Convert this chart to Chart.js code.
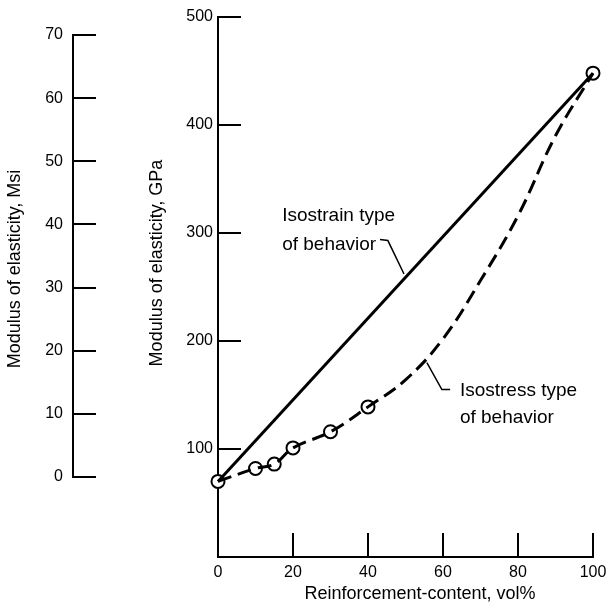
<!DOCTYPE html>
<html>
<head>
<meta charset="utf-8">
<script src="https://cdn.jsdelivr.net/npm/chart.js@4/dist/chart.umd.min.js"></script>
<style>
  html, body { margin: 0; padding: 0; background: #fff; }
  #wrap { position: relative; width: 612px; height: 610px; }
  #wrap canvas { position: absolute; left: 0; top: 0; }
</style>
</head>
<body>
<div id="wrap">
  <canvas id="msi" width="612" height="610"></canvas>
  <canvas id="main" width="612" height="610"></canvas>
</div>
<script>
// values
const measuredPct = [0, 10, 15, 20, 30, 40, 100]
const measuredGpa = [70, 82, 86, 101, 116, 139, 448]

const isostrainPct = [0, 100]
const isostrainGpa = [70, 448]

const isostressPct = [0, 10, 15, 20, 30, 40, 50, 60, 70, 80, 90, 100]
const isostressGpa = [70, 82, 86, 101, 116, 139, 164, 202, 256, 316, 390, 448]

const xTicks = [0, 20, 40, 60, 80, 100]
const gpaTicks = [100, 200, 300, 400, 500]
const msiTicks = [0, 10, 20, 30, 40, 50, 60, 70]

const FONT = "'Liberation Sans', Arial, sans-serif"
const INK = '#000'

const pts = (xs, ys) => xs.map((x, i) => ({ x, y: ys[i] }))

// fixed box sizes so the plot sits where the original does
const fixBox = (w, h) => s => {
  if (w != null) s.width = w
  if (h != null) s.height = h
  s.paddingLeft = s.paddingRight = s.paddingTop = s.paddingBottom = 0
}

// free text + leader lines; labels/leaders in data units, titles in pixels
const notesPlugin = {
  id: 'notes',
  afterDraw(chart, args, opts) {
    const ctx = chart.ctx
    const sx = chart.scales.x
    const sy = chart.scales.y
    const px = v => sx.getPixelForValue(v)
    const py = v => sy.getPixelForValue(v)
    ctx.save()
    ctx.fillStyle = INK
    ctx.strokeStyle = INK
    ;(opts.titles || []).forEach(t => {
      ctx.save()
      ctx.translate(t.x, t.y)
      ctx.rotate(t.rot || 0)
      ctx.font = t.font
      ctx.textAlign = 'center'
      ctx.textBaseline = 'middle'
      ctx.fillText(t.text, 0, 0)
      ctx.restore()
    })
    ;(opts.labels || []).forEach(t => {
      ctx.font = t.font
      ctx.textAlign = 'left'
      ctx.textBaseline = 'alphabetic'
      ctx.fillText(t.text, px(t.x), py(t.y))
    })
    ;(opts.leaders || []).forEach(l => {
      ctx.lineWidth = 1.5
      ctx.beginPath()
      l.forEach((p, i) => (i ? ctx.lineTo(px(p[0]), py(p[1])) : ctx.moveTo(px(p[0]), py(p[1]))))
      ctx.stroke()
    })
    ctx.restore()
  }
}

// separate Msi scale on the left
new Chart(document.getElementById('msi'), {
  type: 'scatter',
  data: { datasets: [] },
  options: {
    responsive: false,
    animation: false,
    layout: { padding: { left: 0, right: 516, top: 35, bottom: 133 } },
    plugins: {
      legend: { display: false },
      tooltip: { enabled: false },
      notes: {
        titles: [
          { text: 'Modulus of elasticity, Msi', x: 15, y: 269, rot: -Math.PI / 2, font: `18px ${FONT}` }
        ]
      }
    },
    scales: {
      x: { display: false, min: 0, max: 1 },
      y: {
        min: 0,
        max: 70,
        afterBuildTicks: s => { s.ticks = msiTicks.map(value => ({ value })) },
        afterFit: fixBox(73, null),
        border: { display: true, color: INK, width: 2 },
        grid: { drawOnChartArea: true, drawTicks: false, color: INK, lineWidth: 2 },
        ticks: { color: INK, padding: 10, font: { family: FONT, size: 16 } }
      }
    }
  },
  plugins: [notesPlugin]
})

new Chart(document.getElementById('main'), {
  type: 'scatter',
  data: {
    datasets: [
      {
        label: 'Isostrain type of behavior',
        data: pts(isostrainPct, isostrainGpa),
        showLine: true,
        borderColor: INK,
        borderWidth: 3,
        pointRadius: 0,
        clip: false
      },
      {
        label: 'Isostress type of behavior',
        data: pts(isostressPct, isostressGpa),
        showLine: true,
        borderColor: INK,
        borderWidth: 3,
        borderDash: [14, 7],
        tension: 0.4,
        pointRadius: 0,
        clip: false
      },
      {
        label: 'Measured',
        data: pts(measuredPct, measuredGpa),
        showLine: false,
        pointRadius: 6.5,
        pointBorderWidth: 2,
        pointBackgroundColor: '#fff',
        pointBorderColor: INK,
        clip: false
      }
    ]
  },
  options: {
    responsive: false,
    animation: false,
    layout: { padding: { left: 143, right: 19, top: 17, bottom: 0 } },
    plugins: {
      legend: { display: false },
      tooltip: { enabled: false },
      notes: {
        titles: [
          { text: 'Modulus of elasticity, GPa', x: 157, y: 263, rot: -Math.PI / 2, font: `18px ${FONT}` },
          { text: 'Reinforcement-content, vol%', x: 420, y: 594, font: `18px ${FONT}` }
        ],
        labels: [
          { text: 'Isostrain type', x: 17.1, y: 311, font: `19px ${FONT}` },
          { text: 'of behavior', x: 17.1, y: 284, font: `19px ${FONT}` },
          { text: 'Isostress type', x: 64.5, y: 149, font: `19px ${FONT}` },
          { text: 'of behavior', x: 64.5, y: 124, font: `19px ${FONT}` }
        ],
        leaders: [
          [[43.2, 294], [45.3, 293], [49.6, 262]],
          [[55.7, 180], [59.7, 155], [61.9, 155]]
        ]
      }
    },
    scales: {
      x: {
        type: 'linear',
        min: 0,
        max: 100,
        afterBuildTicks: s => { s.ticks = xTicks.map(value => ({ value })) },
        afterFit: fixBox(null, 53),
        border: { display: true, color: INK, width: 2 },
        grid: { drawOnChartArea: false, drawTicks: true, tickLength: -24, color: INK, lineWidth: 2 },
        ticks: { color: INK, padding: 30, font: { family: FONT, size: 16 } }
      },
      y: {
        min: 0,
        max: 500,
        afterBuildTicks: s => { s.ticks = gpaTicks.map(value => ({ value })) },
        afterFit: fixBox(75, null),
        border: { display: true, color: INK, width: 2 },
        grid: { drawOnChartArea: false, drawTicks: true, tickLength: -23, color: INK, lineWidth: 2 },
        ticks: { color: INK, padding: 28, font: { family: FONT, size: 16 } }
      }
    }
  },
  plugins: [notesPlugin]
})
</script>
</body>
</html>
